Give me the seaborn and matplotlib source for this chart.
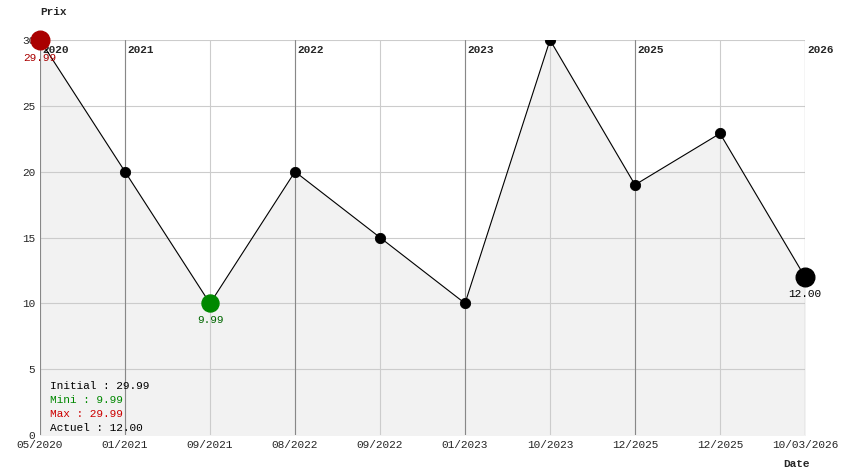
import matplotlib
matplotlib.use("Agg")
import matplotlib.pyplot as plt
import seaborn as sns
import pandas as pd
import numpy as np

dates = ["05/2020","01/2021","09/2021","08/2022","09/2022","01/2023","10/2023","12/2025","12/2025","10/03/2026"]
prices = [29.99, 20, 9.99, 20, 15, 10, 30, 19, 22.9, 12]
year_idx = [0, 1, 3, 5, 7, 9]
year_labels = ["2020","2021","2022","2023","2025","2026"]

sns.set_style("white")
plt.rcParams['font.family'] = ['Liberation Mono', 'DejaVu Sans Mono']
df = pd.DataFrame({"x": np.arange(len(dates)), "price": prices})

fig = plt.figure(figsize=(8.44, 4.74), dpi=100)
ax = fig.add_axes([40/844, 39/474, 765/844, 395/474])
ax.set_xlim(0, len(dates)-1)
ax.set_ylim(0, 30)
ax.fill_between(df["x"], df["price"], 0, color="#f2f2f2", zorder=0)
for i in range(len(dates)):
    ax.axvline(i, color="#cccccc", lw=0.8, zorder=1)
for y in range(5, 31, 5):
    ax.axhline(y, color="#cccccc", lw=0.8, zorder=1)
for i, lab in zip(year_idx, year_labels):
    ax.axvline(i, color="#888888", lw=0.8, zorder=1)
    ax.text(i + 0.03, 29.6, lab, fontsize=8, fontweight="bold", va="top", ha="left")
sns.lineplot(data=df, x="x", y="price", color="black", lw=0.8, ax=ax, zorder=3)
sns.scatterplot(data=df.iloc[1:-1], x="x", y="price", color="black", s=55, ax=ax, zorder=4, edgecolor="black")
ax.scatter([0], [prices[0]], s=180, color="#aa0000", zorder=5, clip_on=False)
ax.scatter([2], [prices[2]], s=150, color="#008800", zorder=5)
ax.scatter([9], [prices[9]], s=180, color="black", zorder=5, clip_on=False)
ax.text(0, 29.99-1.0, "29.99", color="#aa0000", fontsize=8, ha="center", va="top")
ax.text(2, 9.99-0.9, "9.99", color="#006600", fontsize=8, ha="center", va="top")
ax.text(9, 12-0.9, "12.00", color="black", fontsize=8, ha="center", va="top")

ax.set_xticks(range(len(dates)))
ax.set_xticklabels(dates, fontsize=8)
ax.set_yticks(range(0, 31, 5))
ax.tick_params(axis="y", labelsize=8, length=0)
ax.tick_params(axis="x", length=0)
ax.set_xlabel(""); ax.set_ylabel("")
for s in ax.spines.values():
    s.set_visible(False)
fig.text(40/844, 1-12/474, "Prix", fontsize=8, fontweight="bold", va="center")
fig.text(783/844, 1-464/474, "Date", fontsize=8, fontweight="bold", va="center")
leg = [("Initial : 29.99", "black"), ("Mini : 9.99", "#008800"), ("Max : 29.99", "#cc0000"), ("Actuel : 12.00", "black")]
for k, (t, c) in enumerate(leg):
    fig.text(50/844, 1-(386+14*k)/474, t, fontsize=8, color=c, va="center")
fig.savefig("out.png", dpi=100)
